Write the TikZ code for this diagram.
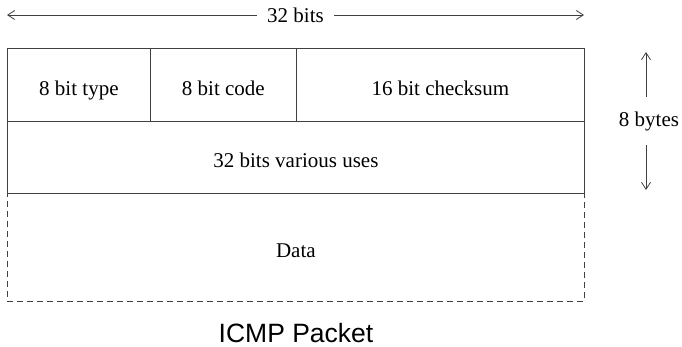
\documentclass[tikz,border=0pt]{standalone}
\usepackage{fontspec}
\setmainfont{Liberation Serif}
\newfontfamily\captionfont{Liberation Sans}
\usetikzlibrary{arrows.meta}
\begin{document}
\begin{tikzpicture}[x=1pt,y=-1pt,
  line/.style={draw=black!75, line width=0.8pt},
  cell/.style={line, rectangle, anchor=north west, inner sep=0pt, text depth=0pt,
    font=\fontsize{21}{24}\selectfont},
  celltext/.style={anchor=center, inner sep=0pt, text depth=0pt, yshift=-3pt,
    font=\fontsize{21}{24}\selectfont},
  datacell/.style={cell, dashed, dash pattern=on 6pt off 4pt},
  dim/.style={line, {Straight Barb[length=7pt,width=9pt]}-{Straight Barb[length=7pt,width=9pt]}},
  dimlabel/.style={fill=white, inner xsep=10pt, inner ysep=10pt, font=\fontsize{21}{24}\selectfont}]
  \useasboundingbox (0,0) rectangle (682,347);

  % header rows
  \node[cell, minimum width=143pt, minimum height=73pt] (type) at (7,48) {};
  \node[cell, minimum width=146pt, minimum height=73pt] (code) at (150,48) {};
  \node[cell, minimum width=288pt, minimum height=73pt] (csum) at (296,48) {};
  \node[cell, minimum width=577pt, minimum height=72pt] (uses) at (7,121) {};
  % payload
  \node[datacell, minimum width=577pt, minimum height=108pt] (data) at (7,193) {};

  % field labels
  \node[celltext] (typet) at (type.center) {8 bit type};
  \node[celltext] (codet) at (code.center) {8 bit code};
  \node[celltext] (csumt) at (csum.center) {16 bit checksum};
  \node[celltext] (usest) at (uses.center) {32 bits various uses};
  \node[celltext] (datat) at (data.center) {Data};

  % width dimension
  \coordinate (wl) at (7,15);
  \coordinate (wr) at (584,15);
  \draw[dim] (wl) -- (wr) node[midway, dimlabel] {32 bits};

  % header height dimension
  \coordinate (ht) at (646,52);
  \coordinate (hb) at (646,190);
  \draw[dim] (ht) -- (hb) node[midway, dimlabel, inner xsep=1pt, inner ysep=14pt, xshift=3pt] {8 bytes};

  \node[font=\captionfont\fontsize{26.5}{30}\selectfont, anchor=base, inner sep=0pt] (caption) at (296,342) {ICMP Packet};
\end{tikzpicture}
\end{document}
